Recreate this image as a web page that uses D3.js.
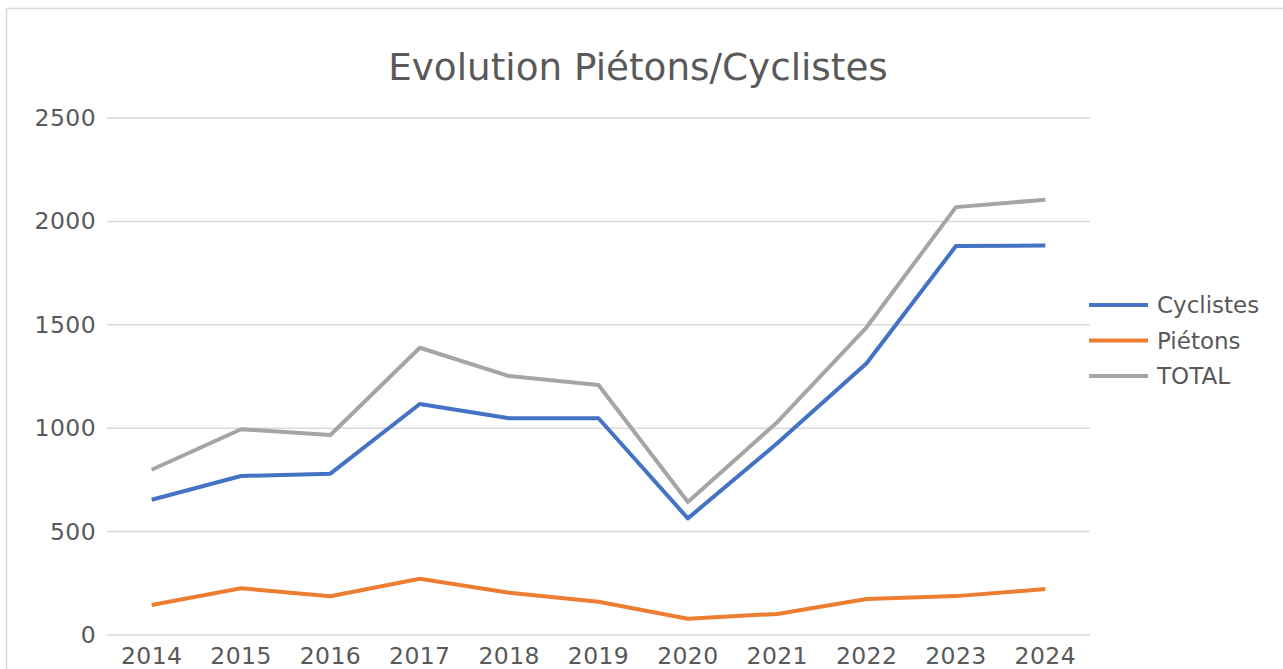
<!DOCTYPE html>
<html>
<head>
<meta charset="utf-8">
<script src="https://cdn.jsdelivr.net/npm/d3@7"></script>
<style>
  html, body { margin: 0; padding: 0; background: #fff; }
  svg { display: block; font-family: "DejaVu Sans", sans-serif; }
</style>
</head>
<body>
<svg id="chart" width="1283" height="669"></svg>
<script>
const years = ["2014","2015","2016","2017","2018","2019","2020","2021","2022","2023","2024"];
const cyclistes = [654, 769, 780, 1117, 1048, 1048, 564, 927, 1314, 1881, 1883];
const pietons   = [145, 226, 187, 272, 204, 161, 79, 102, 174, 188, 222];
const total     = [799, 995, 967, 1389, 1252, 1209, 643, 1029, 1488, 2069, 2105];
const yTicks = [0, 500, 1000, 1500, 2000, 2500];
const seriesNames = ["Cyclistes", "Piétons", "TOTAL"];
const titleText = "Evolution Piétons/Cyclistes";

const series = [
  { name: seriesNames[0], values: cyclistes, color: "#4472C4" },
  { name: seriesNames[1], values: pietons,   color: "#ED7D31" },
  { name: seriesNames[2], values: total,     color: "#A5A5A5" }
];

const svg = d3.select("#chart");
const textColor = "#595959";

// chart frame
svg.append("rect")
  .attr("x", 6.5).attr("y", 8.5)
  .attr("width", 1400).attr("height", 800)
  .attr("fill", "#fff").attr("stroke", "#D9D9D9").attr("stroke-width", 1.5);

const plotLeft = 107, plotRight = 1090, plotTop = 118, plotBottom = 635;

const x = d3.scaleBand().domain(years).range([plotLeft, plotRight]);
const y = d3.scaleLinear().domain([0, 2500]).range([plotBottom, plotTop]);

// gridlines
svg.append("g").selectAll("line").data(yTicks).join("line")
  .attr("x1", plotLeft).attr("x2", plotRight)
  .attr("y1", d => y(d)).attr("y2", d => y(d))
  .attr("stroke", "#D9D9D9").attr("stroke-width", 1.5);

// y axis labels
const yAxis = d3.axisLeft(y).tickValues(yTicks).tickFormat(d3.format("d")).tickSize(0).tickPadding(11);
const gy = svg.append("g").attr("transform", `translate(${plotLeft},0)`).call(yAxis);
gy.select(".domain").remove();
gy.selectAll("text").attr("fill", textColor).style("font-size", "23.5px")
  .style("letter-spacing", "0.4px")
  .style("font-family", "DejaVu Sans, sans-serif");

// x axis labels
const xAxis = d3.axisBottom(x).tickSize(0).tickPadding(12);
const gx = svg.append("g").attr("transform", `translate(0,${plotBottom})`).call(xAxis);
gx.select(".domain").remove();
gx.selectAll("text").attr("fill", textColor).style("font-size", "23.5px")
  .style("letter-spacing", "0.4px")
  .style("font-family", "DejaVu Sans, sans-serif");

// lines
const line = d3.line()
  .x((d, i) => x(years[i]) + x.bandwidth() / 2)
  .y(d => y(d));

svg.append("g").selectAll("path").data(series).join("path")
  .attr("d", d => line(d.values))
  .attr("fill", "none")
  .attr("stroke", d => d.color)
  .attr("stroke-width", 4)
  .attr("stroke-linejoin", "round");

// title
svg.append("text")
  .attr("x", 638).attr("y", 80)
  .attr("text-anchor", "middle")
  .attr("fill", textColor)
  .style("font-size", "37.3px")
  .text(titleText);

// legend
const lg = svg.append("g").selectAll("g").data(series).join("g")
  .attr("transform", (d, i) => `translate(1089,${305 + i * 35.5})`);
lg.append("line").attr("x1", 0).attr("x2", 59).attr("y1", 0).attr("y2", 0)
  .attr("stroke", d => d.color).attr("stroke-width", 4);
lg.append("text").attr("x", 68).attr("y", 8)
  .attr("fill", textColor).style("font-size", "23px")
  .text(d => d.name);
</script>
</body>
</html>
